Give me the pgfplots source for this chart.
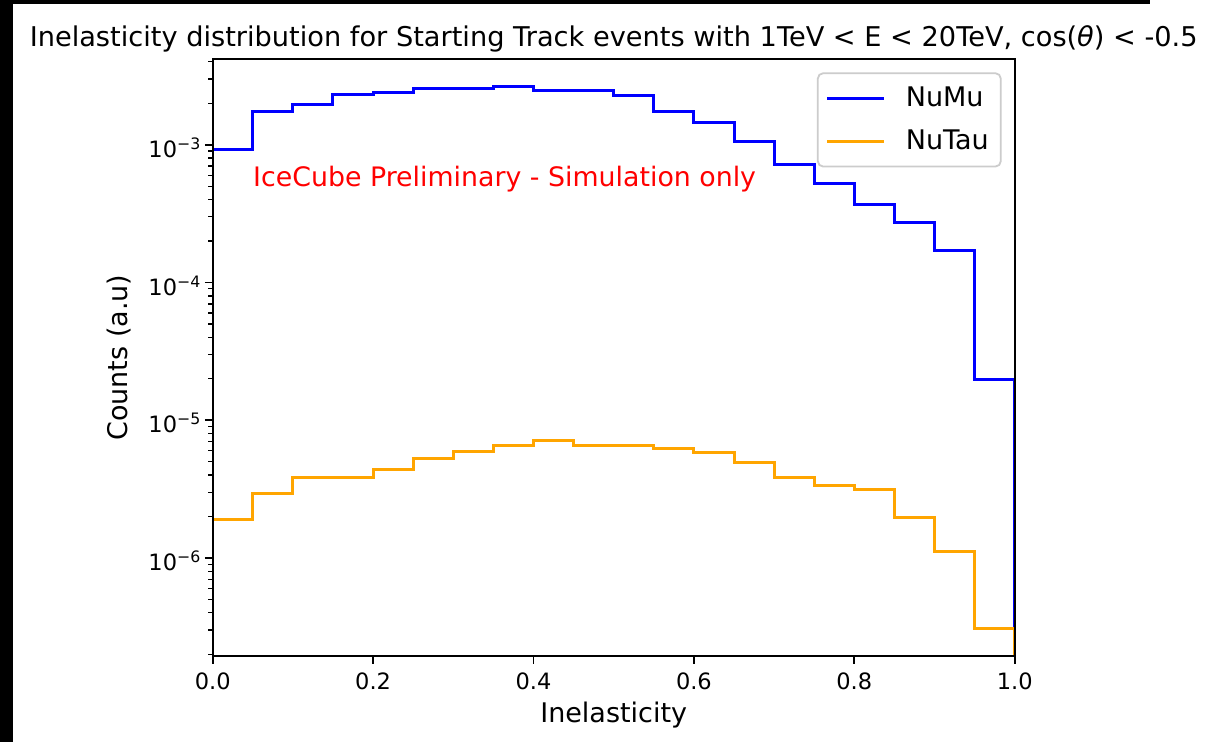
\documentclass[border=0pt]{standalone}
\usepackage{fontspec}
\setmainfont{DejaVu Sans}
\usepackage{pgfplots}
\pgfplotsset{compat=1.18}

\definecolor{mplblue}{RGB}{0,0,255}
\definecolor{mplorange}{RGB}{255,165,0}
\definecolor{legframe}{RGB}{204,204,204}

\begin{document}
\begin{tikzpicture}
% page = 1210 x 742 px, 1 px = 0.5pt, axis box lower left at (0,0)
\useasboundingbox (-106.35pt,-43pt) rectangle (498.65pt,328.05pt);
\fill[white] (-106.35pt,-43pt) rectangle (498.65pt,328.05pt);
\fill[black] (-106.35pt,-43pt) rectangle (-99.85pt,328.05pt);
\fill[black] (-106.35pt,326.05pt) rectangle (468.65pt,328.05pt);
\begin{axis}[
    at={(0,0)}, anchor=south west,
    scale only axis,
    width=401pt, height=298.4pt,
    ymode=log,
    xmin=0, xmax=1,
    ymin=1.94e-7, ymax=4.17e-3,
    axis on top,
    tick pos=left,
    tick align=outside,
    major tick length=3.94pt,
    minor tick length=2.25pt,
    every tick/.style={black, line width=0.9pt},
    minor tick style={line width=0.68pt},
    axis line style={line width=0.9pt, black},
    xtick={0,0.2,0.4,0.6,0.8,1.0},
    xticklabels={0.0,0.2,0.4,0.6,0.8,1.0},
    ytick={1e-6,1e-5,1e-4,1e-3},
    yticklabels={10\textsuperscript{−6},10\textsuperscript{−5},10\textsuperscript{−4},10\textsuperscript{−3}},
    minor ytick={2e-7,3e-7,4e-7,5e-7,6e-7,7e-7,8e-7,9e-7,
                 2e-6,3e-6,4e-6,5e-6,6e-6,7e-6,8e-6,9e-6,
                 2e-5,3e-5,4e-5,5e-5,6e-5,7e-5,8e-5,9e-5,
                 2e-4,3e-4,4e-4,5e-4,6e-4,7e-4,8e-4,9e-4,
                 2e-3,3e-3,4e-3},
    ticklabel style={font=\fontsize{11.25}{13}\selectfont},
    xticklabel style={anchor=base, inner sep=0pt, yshift=-12.7pt},
    yticklabel style={anchor=east, inner sep=0pt, xshift=-1.55pt, yshift=-1.5pt},
    xlabel={Inelasticity},
    ylabel={Counts (a.u)},
    label style={font=\fontsize{13.5}{16}\selectfont},
    xlabel style={at={(axis description cs:0.5,0)}, anchor=base, inner sep=0pt, yshift=-33.4pt},
    ylabel style={at={(axis description cs:0,0.5)}, anchor=base, inner sep=0pt, yshift=42.5pt},
    title={Inelasticity distribution for Starting Track events with 1TeV < E < 20TeV, cos(\textit{θ}) < -0.5},
    every axis title shift=0pt,
    title style={at={(axis description cs:0.5,1)}, anchor=base, inner sep=0pt, yshift=6.65pt,
                 font=\fontsize{13.6}{16}\selectfont},
    legend style={at={(1,1)}, anchor=north east, xshift=-6.5pt, yshift=-6.5pt,
                  draw=legframe, line width=0.9pt, rounded corners=2.7pt,
                  font=\fontsize{13.5}{16}\selectfont,
                  inner xsep=4pt, inner ysep=5pt, row sep=6pt},
    legend cell align=left,
    legend image code/.code={\draw[#1] (0pt,0pt) -- (28.5pt,0pt); \path (36.5pt,0pt);},
]
\addplot[mplblue, line width=1.5pt, const plot mark left] coordinates {
    (0,1e-9) (0,9.26e-4) (0.05,1.756e-3) (0.1,1.974e-3) (0.15,2.306e-3)
    (0.2,2.412e-3) (0.25,2.55e-3) (0.3,2.566e-3) (0.35,2.667e-3)
    (0.4,2.494e-3) (0.45,2.494e-3) (0.5,2.268e-3) (0.55,1.756e-3)
    (0.6,1.449e-3) (0.65,1.051e-3) (0.7,7.24e-4) (0.75,5.21e-4)
    (0.8,3.67e-4) (0.85,2.72e-4) (0.9,1.72e-4) (0.95,1.96e-5) (1.0,1e-9)
};
\addlegendentry{NuMu}
\addplot[mplorange, line width=1.5pt, const plot mark left] coordinates {
    (0,1e-9) (0,1.912e-6) (0.05,2.953e-6) (0.1,3.857e-6) (0.15,3.857e-6)
    (0.2,4.418e-6) (0.25,5.309e-6) (0.3,5.917e-6) (0.35,6.596e-6)
    (0.4,7.16e-6) (0.45,6.596e-6) (0.5,6.596e-6) (0.55,6.263e-6)
    (0.6,5.79e-6) (0.65,4.925e-6) (0.7,3.857e-6) (0.75,3.375e-6)
    (0.8,3.12e-6) (0.85,1.964e-6) (0.9,1.113e-6) (0.95,3.06e-7) (1.0,1e-9)
};
\addlegendentry{NuTau}
\node[anchor=base west, inner sep=0pt, text=red, font=\fontsize{13.4}{16}\selectfont]
    at (axis cs:0.05,5e-4) {IceCube Preliminary - Simulation only};
\end{axis}
\end{tikzpicture}
\end{document}
